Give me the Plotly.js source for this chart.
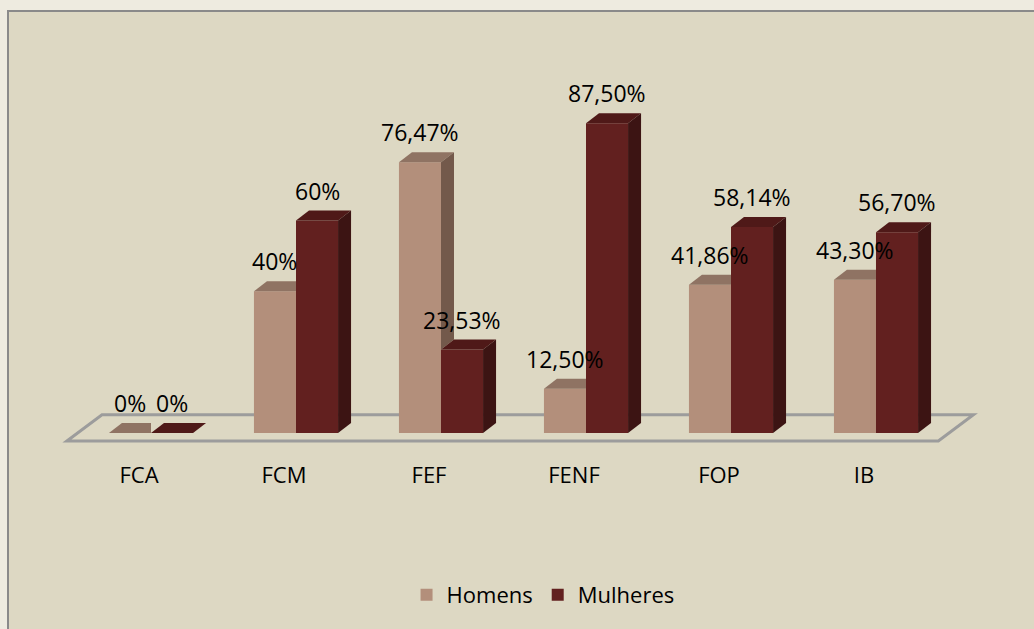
<!DOCTYPE html>
<html><head><meta charset="utf-8">
<script src="https://cdn.plot.ly/plotly-3.0.1.min.js"></script>
<style>html,body{margin:0;padding:0;background:#EEEBE0;}#chart{width:1034px;height:629px;}</style>
</head><body><div id="chart"></div>
<script>
// ---- data ----
const categories = ['FCA', 'FCM', 'FEF', 'FENF', 'FOP', 'IB'];
const homens = [0, 40, 76.47, 12.50, 41.86, 43.30];
const mulheres = [0, 60, 23.53, 87.50, 58.14, 56.70];
const homensLabels = ['0%', '40%', '76,47%', '12,50%', '41,86%', '43,30%'];
const mulheresLabels = ['0%', '60%', '23,53%', '87,50%', '58,14%', '56,70%'];
const seriesNames = ['Homens', 'Mulheres'];

// ---- styling / layout constants ----
const W = 1034, H = 629;
const plotH = 450;
const xRange = [-1.0414, 6.0897];
const yRange = [-4.83, 122.3];
const pxX = W / (xRange[1] - xRange[0]);
const pxY = plotH / (yRange[1] - yRange[0]);
const barW = 0.29;
const depthX = 13 / pxX;      // 3D depth offset in data units
const depthY = 10 / pxY;
const font = 'Open Sans, sans-serif';
const col = {
  hFront: '#B38F7B', hSide: '#73594B', hTop: '#8F7363',
  mFront: '#62201F', mSide: '#3C1413', mTop: '#4F1918'
};

const idx = categories.map((c, i) => i);

const traces = [
  { type: 'bar', name: seriesNames[0], x: idx, y: homens, width: barW, offset: -barW,
    marker: { color: col.hFront, line: { width: 0 } }, hoverinfo: 'skip' },
  { type: 'bar', name: seriesNames[1], x: idx, y: mulheres, width: barW, offset: 0,
    marker: { color: col.mFront, line: { width: 0 } }, hoverinfo: 'skip' }
];

function poly(pts) {
  return 'M' + pts.map(p => p[0] + ',' + p[1]).join(' L') + ' Z';
}

const shapes = [];
// chart panel
shapes.push({ type: 'rect', xref: 'paper', yref: 'paper', x0: 8 / W, x1: 1.2, y0: -0.6, y1: (plotH - 11) / plotH,
  fillcolor: '#DDD8C3', line: { color: '#8A8A8A', width: 2 }, layer: 'below' });
// floor
const fl = { xf0: -0.58, xf1: 5.43, yf: -2.27, sx: 0.242, yb: 5.11 };
shapes.push({ type: 'path', xref: 'x', yref: 'y', layer: 'below',
  path: poly([[fl.xf0, fl.yf], [fl.xf0 + fl.sx, fl.yb], [fl.xf1 + fl.sx, fl.yb], [fl.xf1, fl.yf]]),
  fillcolor: 'rgba(0,0,0,0)', line: { color: '#9C9C9C', width: 3 } });

idx.forEach(i => {
  const h = homens[i], m = mulheres[i];
  const L = i - barW, R = i, R2 = i + barW;
  // Homens top face
  if (m >= h) {
    shapes.push({ type: 'path', xref: 'x', yref: 'y', layer: 'above', line: { width: 0 }, fillcolor: col.hTop,
      path: poly([[L, h], [L + depthX, h + depthY], [R, h + depthY], [R, h]]) });
  } else {
    shapes.push({ type: 'path', xref: 'x', yref: 'y', layer: 'above', line: { width: 0 }, fillcolor: col.hTop,
      path: poly([[L, h], [L + depthX, h + depthY], [R + depthX, h + depthY], [R, h]]) });
    // visible part of Homens side face
    shapes.push({ type: 'path', xref: 'x', yref: 'y', layer: 'above', line: { width: 0 }, fillcolor: col.hSide,
      path: poly([[R, h], [R + depthX, h + depthY], [R + depthX, m + depthY], [R, m]]) });
  }
  // Mulheres top and side faces
  shapes.push({ type: 'path', xref: 'x', yref: 'y', layer: 'above', line: { width: 0 }, fillcolor: col.mTop,
    path: poly([[R, m], [R + depthX, m + depthY], [R2 + depthX, m + depthY], [R2, m]]) });
  if (m > 0) {
    shapes.push({ type: 'path', xref: 'x', yref: 'y', layer: 'above', line: { width: 0 }, fillcolor: col.mSide,
      path: poly([[R2, m], [R2 + depthX, m + depthY], [R2 + depthX, depthY], [R2, 0]]) });
  }
});

const annotations = [];
idx.forEach(i => {
  annotations.push({ x: i - barW / 2, y: homens[i], xref: 'x', yref: 'y', text: homensLabels[i],
    showarrow: false, yshift: 30, font: { family: font, size: 23, color: '#000' } });
  annotations.push({ x: i + barW / 2, y: mulheres[i], xref: 'x', yref: 'y', text: mulheresLabels[i],
    showarrow: false, yshift: 30, font: { family: font, size: 23, color: '#000' } });
});

const layout = {
  width: W, height: H,
  margin: { l: 0, r: 0, t: 0, b: H - plotH },
  paper_bgcolor: '#EEEBE0', plot_bgcolor: 'rgba(0,0,0,0)',
  barmode: 'overlay',
  showlegend: true,
  font: { family: font, color: '#000' },
  xaxis: { range: xRange, tickmode: 'array', tickvals: idx, ticktext: categories,
    showgrid: false, zeroline: false, showline: false, ticks: '',
    ticklabelshift: -12, ticklabelstandoff: 10,
    tickfont: { family: font, size: 22, color: '#000' }, fixedrange: true },
  yaxis: { range: yRange, visible: false, showgrid: false, zeroline: false, fixedrange: true },
  legend: { orientation: 'h', x: 0.5252, xanchor: 'center', y: (plotH - 595) / plotH, yanchor: 'middle',
    font: { family: font, size: 22, color: '#000' }, bgcolor: 'rgba(0,0,0,0)' },
  shapes: shapes,
  annotations: annotations
};

Plotly.newPlot('chart', traces, layout, { displayModeBar: false, staticPlot: true });
</script></body></html>
